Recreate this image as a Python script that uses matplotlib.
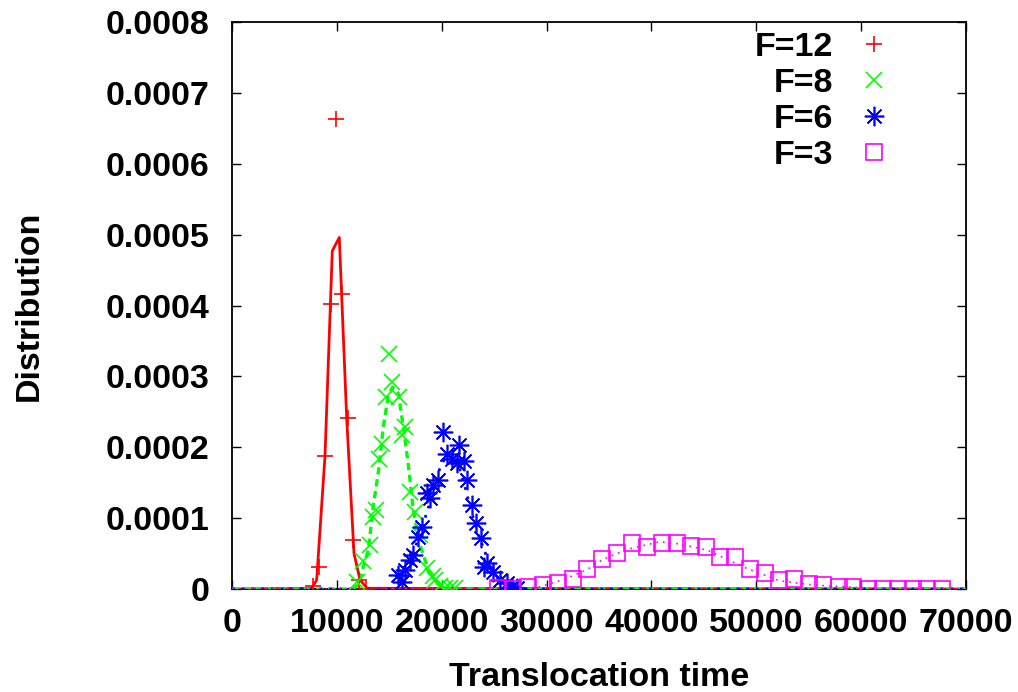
import numpy as np
import matplotlib
matplotlib.use("Agg")
from matplotlib import pyplot as plt

plt.rcParams['font.family'] = ['Liberation Sans', 'DejaVu Sans']
plt.rcParams['font.weight'] = 'bold'

# histogram points (translocation time, distribution)
f12_x = [7700, 8330, 8870, 9410, 9920, 10460, 11030, 11570, 12080, 12780]
f12_y = [0.000004, 0.0000315, 0.000188, 0.000402, 0.000663, 0.000416, 0.000241, 0.000069, 0.0000127, 0.0000005]

f8_x = [11892, 12465, 13161, 13419, 13733, 14048, 14277, 14687, 15002, 15229, 15957, 16242,
        16499, 16976, 17453, 17930, 18626, 19141, 19360, 19837, 20314, 20791, 21268]
f8_y = [0.0000103, 0.000040, 0.000062, 0.000102, 0.000112, 0.000183, 0.000205, 0.000271, 0.000331,
        0.000292, 0.000271, 0.000217, 0.000229, 0.000137, 0.000108, 0.000076, 0.000030, 0.000018,
        0.000012, 0.000004, 0.000001, 0.000002, 0.000001]

f6_x = [15863, 16181, 16499, 16976, 17293, 17770, 18091, 18568, 18884, 19198, 19675, 20093,
        20474, 20951, 21428, 21679, 22126, 22443, 22856, 23270, 23718, 24033, 24290, 24925,
        25560, 26198, 26675, 27152]
f6_y = [0.0000197, 0.0000103, 0.0000268, 0.0000409, 0.000048, 0.0000738, 0.0000879, 0.000135,
        0.000128, 0.000147, 0.000154, 0.000221, 0.000190, 0.000184, 0.000178, 0.000203, 0.000180,
        0.000154, 0.000118, 0.0000935, 0.0000715, 0.0000315, 0.0000362, 0.0000244, 0.0000127,
        0.000008, 0.0000024, 0.000001]

f3_x = [25398, 26829, 28259, 29689, 31060, 32492, 33885, 35316, 36717, 38148, 39548, 40979,
        42410, 43779, 45176, 46570, 47971, 49402, 50832, 52197, 53598, 55029, 56393, 57890,
        59253, 60684, 62115, 63545, 64917, 66252, 67683]
f3_y = [0.000001, 0.0, 0.000003, 0.0000056, 0.0000089, 0.0000137, 0.0000278, 0.0000419,
        0.0000503, 0.0000653, 0.0000588, 0.0000653, 0.0000653, 0.0000606, 0.0000597, 0.0000447,
        0.0000456, 0.0000278, 0.000023, 0.0000127, 0.0000137, 0.0000066, 0.0000056, 0.0000024,
        0.0000024, 0.0, 0.0, 0.0, 0.0, 0.0, 0.0]

# fitted curves
fit12_x = [0, 7600, 8075, 8870, 9566, 10233, 10938, 11635, 12207, 12904, 70000]
fit12_y = [0, 0.000001, 0.0000127, 0.000188, 0.000477, 0.000496, 0.000241, 0.0000503, 0.0000127, 0.000001, 0]

fit8_x = [0, 11500, 12050, 12527, 13004, 13480, 14008, 14430, 14900, 15323, 15863, 16340, 16817,
          17293, 17930, 18726, 19678, 20471, 70000]
fit8_y = [0, 0, 0.000006, 0.0000315, 0.000055, 0.000118, 0.00017, 0.000229, 0.000272, 0.000285,
          0.000276, 0.000229, 0.000175, 0.000111, 0.000062, 0.000027, 0.000006, 0, 0]

fit6_x = [0, 15400, 16022, 16817, 17610, 18407, 19198, 19771, 20474, 21110, 21744, 22221, 22697,
          23492, 24128, 24605, 25400, 26198, 27152, 70000]
fit6_y = [0, 0, 0.000001, 0.0000315, 0.0000645, 0.0001, 0.000137, 0.000168, 0.00019, 0.000187,
          0.000168, 0.000144, 0.000116, 0.000076, 0.0000526, 0.0000268, 0.0000127, 0.000004, 0, 0]

fit3_x = [0, 25000, 27800, 29300, 31500, 33800, 35400, 36700, 38100, 40800, 42700, 45300, 47200,
          49100, 52200, 55400, 58600, 61000, 70000]
fit3_y = [0, 0, 0.000001, 0.000003, 0.0000127, 0.0000268, 0.000042, 0.00005, 0.0000574, 0.0000667,
          0.0000635, 0.000055, 0.0000419, 0.000029, 0.0000117, 0.0000056, 0.000003, 0.000001, 0]

labels = ['F=12', 'F=8', 'F=6', 'F=3']

fs = 24.5

fig = plt.figure(figsize=(10.18, 6.92), dpi=100)
ax = fig.add_axes([232 / 1018, 103 / 692, 734 / 1018, 567 / 692])

ax.plot(fit12_x, fit12_y, color='#ff0000', lw=2, zorder=3)
ax.plot(fit8_x, fit8_y, color='#00ff00', lw=2.4, linestyle=(0, (2.2, 1.4)), zorder=3)
ax.plot(fit6_x, fit6_y, color='#0000ff', lw=2, linestyle=(0, (1, 2.5)), zorder=3)
ax.plot(fit3_x, fit3_y, color='#ff00ff', lw=1.2, linestyle=(0, (1, 3)), zorder=3)

h1, = ax.plot(f12_x, f12_y, ls='none', marker='+', ms=12, mew=1.2, color='#ff0000', label=labels[0], zorder=4)
h2, = ax.plot(f8_x, f8_y, ls='none', marker='x', ms=11, mew=1.2, color='#00ff00', label=labels[1], zorder=4)
h3, = ax.plot(f6_x, f6_y, ls='none', marker=(8, 2, 0), ms=14, mew=1.2, color='#0000ff', label=labels[2], zorder=4)
h4, = ax.plot(f3_x, f3_y, ls='none', marker='s', ms=11, mew=1.2, mfc='none', color='#ff00ff', label=labels[3], zorder=4)

ax.set_xlim(0, 70000)
ax.set_ylim(0, 0.0008)
ax.set_xticks(np.arange(0, 70001, 10000))
ax.set_yticks(np.arange(0, 0.00081, 0.0001))
ax.set_xticklabels([str(v) for v in range(0, 70001, 10000)])
ax.set_yticklabels(['0'] + ['%.4f' % (v * 0.0001) for v in range(1, 9)])

ax.tick_params(direction='in', length=6.5, width=1, top=True, right=True, labelsize=fs)
ax.tick_params(axis='y', pad=16)
ax.tick_params(axis='x', pad=14)
for s in ax.spines.values():
    s.set_linewidth(1.3)

ax.set_xlabel('Translocation time', fontsize=fs, fontweight='bold', labelpad=16)
ax.set_ylabel('Distribution', fontsize=fs, fontweight='bold', labelpad=44)

leg = ax.legend(handles=[h1, h2, h3, h4], loc='upper right', frameon=False, markerfirst=False,
                fontsize=fs, handlelength=2.0, handletextpad=0.2, labelspacing=0.15,
                borderpad=0, borderaxespad=0, bbox_to_anchor=((908 - 232) / 734, (589 - 32) / 567))

fig.savefig('out.png', dpi=100)
